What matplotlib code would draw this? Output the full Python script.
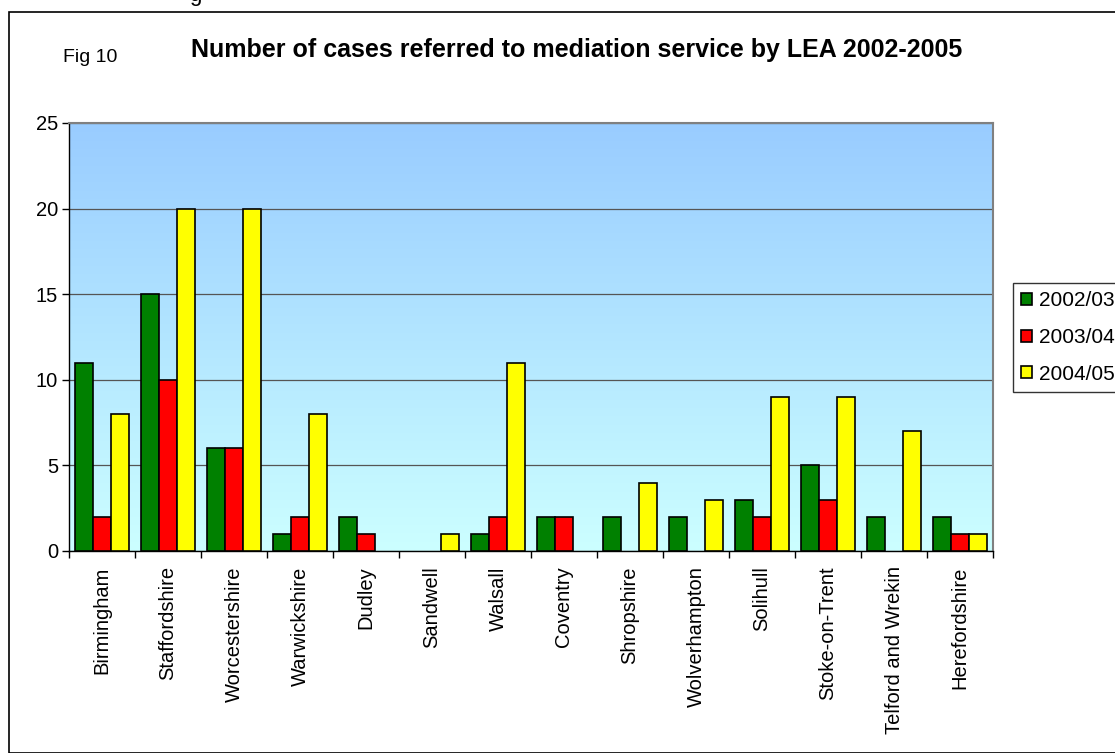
import matplotlib
matplotlib.use("Agg")
import matplotlib.pyplot as plt
from matplotlib.patches import Rectangle
import numpy as np

plt.rcParams['font.family'] = ['Liberation Sans', 'DejaVu Sans']

leas = ["Birmingham", "Staffordshire", "Worcestershire", "Warwickshire", "Dudley",
        "Sandwell", "Walsall", "Coventry", "Shropshire", "Wolverhampton",
        "Solihull", "Stoke-on-Trent", "Telford and Wrekin", "Herefordshire"]
cases_0203 = [11, 15, 6, 1, 2, 0, 1, 2, 2, 2, 3, 5, 2, 2]
cases_0304 = [2, 10, 6, 2, 1, 0, 2, 2, 0, 0, 2, 3, 0, 1]
cases_0405 = [8, 20, 20, 8, 0, 1, 11, 0, 4, 3, 9, 9, 7, 1]
series_names = ["2002/03", "2003/04", "2004/05"]
colours = ["#008000", "#FF0000", "#FFFF00"]

W, H = 1115, 753
fig = plt.figure(figsize=(W / 100, H / 100), dpi=100)
fig.patch.set_facecolor('white')

# outer chart border (runs off the right/bottom of the crop)
fig.patches.append(Rectangle((9 / W, 0), 1.2, 1 - 12 / H, transform=fig.transFigure,
                             fill=False, edgecolor='black', linewidth=1.2, clip_on=False))
# cut-off text from the page above
fig.text(195 / W, 1 - 1 / H, "g", fontsize=16, ha='center', va='baseline', color='black')

left, right, top, bottom = 69, 993, 123, 551
ax = fig.add_axes([left / W, 1 - bottom / H, (right - left) / W, (bottom - top) / H])

# gradient background
grad = np.linspace(0, 1, 256).reshape(-1, 1)
c_top = np.array([0x99, 0xCC, 0xFF]) / 255
c_bot = np.array([0xCC, 0xFF, 0xFF]) / 255
img = c_top[None, None, :] * (1 - grad[:, :, None]) + c_bot[None, None, :] * grad[:, :, None]
ax.imshow(img, extent=[0, 1, 0, 1], transform=ax.transAxes, aspect='auto', zorder=0)

x = np.arange(len(leas))
bw = 0.27
for i, (vals, name, col) in enumerate(zip([cases_0203, cases_0304, cases_0405], series_names, colours)):
    vals = np.array(vals, dtype=float)
    nz = vals > 0  # Excel draws nothing for zero counts
    ax.bar(x[nz] + (i - 1) * bw, vals[nz], width=bw, color=col, edgecolor='black',
           linewidth=1.2, label=name, zorder=3)

ax.set_xlim(-0.5, len(leas) - 0.5)
ax.set_ylim(0, 25)
ax.set_yticks([0, 5, 10, 15, 20, 25])
ax.yaxis.grid(True, color='#555555', linewidth=0.9, zorder=1)
ax.set_axisbelow(True)

ax.set_xticks(np.arange(len(leas) + 1) - 0.5, minor=False)
ax.set_xticklabels([])
ax.set_xticks(x, minor=True)
ax.set_xticklabels(leas, minor=True, rotation=90, fontsize=14.5)
ax.tick_params(axis='x', which='minor', length=0, pad=11)
ax.tick_params(axis='x', which='major', length=5, direction='out', width=1)
ax.tick_params(axis='y', length=5, direction='out', width=1, labelsize=14.5, pad=3)

for s in ['left', 'bottom']:
    ax.spines[s].set_color('black')
    ax.spines[s].set_linewidth(1.0)
for s in ['top', 'right']:
    ax.spines[s].set_color('#808080')
    ax.spines[s].set_linewidth(1.5)

fig.text(577 / W, 1 - 50 / H, "Number of cases referred to mediation service by LEA 2002-2005",
         fontsize=18, fontweight='bold', ha='center', va='center')
fig.text(63 / W, 1 - 57 / H, "Fig 10", fontsize=14, ha='left', va='center')

leg = fig.legend(loc='upper left', bbox_to_anchor=(1013 / W, 1 - 283 / H), fontsize=15,
                 frameon=True, fancybox=False, edgecolor='black', handlelength=0.5,
                 handleheight=0.5, handletextpad=0.35, labelspacing=0.85, borderpad=0.4,
                 borderaxespad=0)
leg.get_frame().set_linewidth(1.0)

fig.savefig("out.png", dpi=100, facecolor='white')
